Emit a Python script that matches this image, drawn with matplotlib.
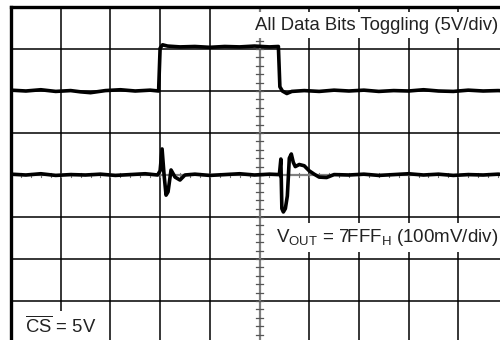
import numpy as np
import matplotlib
matplotlib.use('Agg')
import matplotlib.pyplot as plt

plt.rcParams['font.family'] = ['Liberation Sans', 'DejaVu Sans']
plt.rcParams['mathtext.fontset'] = 'custom'
plt.rcParams['mathtext.rm'] = 'Liberation Sans'
plt.rcParams['mathtext.it'] = 'Liberation Sans'

# scope traces, in divisions (10 x 8 graticule)
bits_t = [0.0, 0.3, 0.6, 0.9, 1.2, 1.4, 1.6, 1.9, 2.2, 2.5, 2.8, 2.97,
          3.0, 3.05, 3.15, 3.4, 3.7, 4.0, 4.3, 4.6, 4.9, 5.2, 5.38,
          5.41, 5.46, 5.55, 5.65, 5.9, 6.2, 6.5, 6.8, 7.1, 7.4, 7.7,
          8.0, 8.3, 8.6, 8.9, 9.2, 9.5, 9.8, 10.0]
bits_v = [6.02, 6.0, 6.03, 5.99, 6.01, 5.98, 5.96, 6.01, 6.03, 6.0, 6.02, 6.0,
          7.02, 7.1, 7.07, 7.05, 7.06, 7.04, 7.06, 7.05, 7.07, 7.05, 7.06,
          6.1, 6.0, 5.94, 5.99, 6.01, 5.99, 6.02, 6.0, 6.02, 5.99, 6.01,
          6.0, 6.03, 6.0, 5.99, 6.02, 6.0, 6.01, 6.0]

vout_t = [0.0, 0.3, 0.6, 0.9, 1.2, 1.5, 1.8, 2.1, 2.4, 2.7, 2.95,
          3.0, 3.04, 3.08, 3.12, 3.16, 3.22, 3.3, 3.4, 3.5, 3.7, 4.0,
          4.3, 4.6, 4.9, 5.2, 5.4, 5.43, 5.45, 5.48, 5.52, 5.56, 5.6,
          5.64, 5.68, 5.72, 5.8, 5.9, 6.0, 6.1, 6.2, 6.35, 6.5, 6.8,
          7.1, 7.4, 7.7, 8.0, 8.3, 8.6, 8.9, 9.2, 9.5, 9.8, 10.0]
vout_v = [4.02, 4.0, 4.03, 3.99, 4.01, 4.0, 4.02, 3.99, 4.01, 4.03, 4.0,
          4.1, 4.62, 4.0, 3.52, 3.6, 4.12, 3.95, 3.88, 4.0, 4.02, 3.99,
          4.01, 4.03, 4.0, 4.02, 4.01, 4.38, 3.2, 3.12, 3.2, 3.5, 4.4,
          4.5, 4.3, 4.2, 4.25, 4.22, 4.1, 4.02, 3.95, 3.94, 4.01, 4.0,
          4.02, 3.99, 4.01, 4.03, 4.0, 4.02, 3.99, 4.01, 4.0, 4.02, 4.0]

fig = plt.figure(figsize=(5, 3.4), dpi=100)
ax = fig.add_axes([11 / 500, -3 / 340, 497 / 500, 336 / 340])
ax.set_xlim(0, 10)
ax.set_ylim(0, 8)
ax.set_xticks([])
ax.set_yticks([])
for side in ['top', 'left']:
    ax.spines[side].set_linewidth(2.4)
for side in ['right', 'bottom']:
    ax.spines[side].set_visible(False)

# graticule
for x in range(1, 10):
    if x == 5:
        continue
    ax.axvline(x, color='black', lw=1.1, zorder=1)
for y in range(1, 8):
    if y == 4:
        continue
    ax.axhline(y, color='black', lw=1.1, zorder=1)
ax.axvline(5, color='#808080', lw=1.6, zorder=1)
ax.axhline(4, color='#808080', lw=1.6, zorder=1)
for y in np.arange(0.2, 8, 0.2):
    ax.plot([4.92, 5.08], [y, y], color='#555555', lw=0.9, zorder=1)
for x in np.arange(0.2, 10, 0.2):
    ax.plot([x, x], [3.95, 4.05], color='#777777', lw=0.8, zorder=1)

ax.plot(bits_t, bits_v, color='black', lw=2.6, zorder=3)
ax.plot(vout_t, vout_v, color='black', lw=2.6, zorder=3)

box = dict(facecolor='white', edgecolor='none', pad=3)
txt = '#222222'
ax.text(9.8, 7.57, 'All Data Bits Toggling (5V/div)', fontsize=13.3,
        color=txt, ha='right', va='center', bbox=box, zorder=2)
ax.text(9.8, 2.52, r'V$_\mathregular{OUT}$ = 7FFF$_\mathregular{H}$ (100mV/div)',
        fontsize=13.5, color=txt, ha='right', va='center', bbox=box, zorder=2)
ax.text(0.28, 0.4, r'$\overline{\mathregular{CS}}$ = 5V', fontsize=13.3,
        color=txt, ha='left', va='center', bbox=box, zorder=2)

fig.savefig('out.png', dpi=100)
